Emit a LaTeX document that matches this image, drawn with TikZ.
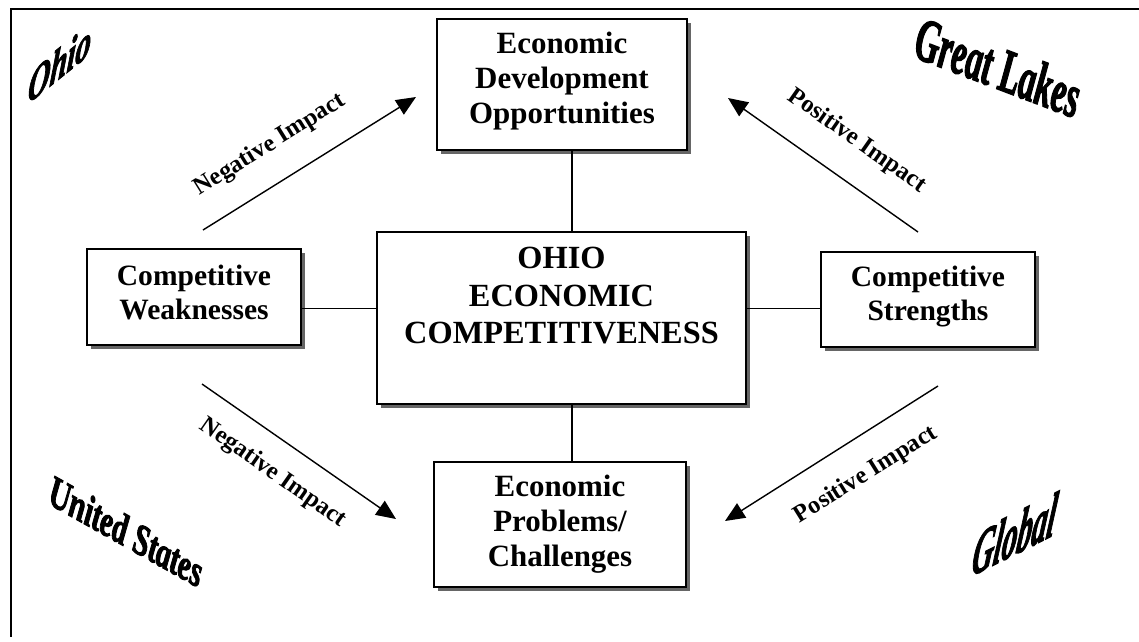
\documentclass[tikz,border=0pt]{standalone}
\usepackage{fontspec}
\setmainfont{Liberation Serif}
\newfontface\regionfont[FakeBold=2.5]{Liberation Serif Bold Italic}
\usetikzlibrary{arrows.meta, shadows}
\newlength{\pxu}
\setlength{\pxu}{0.025cm}

\begin{document}
\begin{tikzpicture}[x=0.025cm, y=-0.025cm,
    box/.style={draw, line width=1.1pt, fill=white, align=center, inner sep=0pt,
      drop shadow={shadow xshift=3pt, shadow yshift=-3pt, fill=black!60, opacity=1}},
    link/.style={line width=1pt},
    impact/.style={line width=1pt, -{Triangle[length=14pt, width=12pt]}},
    impactlabel/.style={font=\bfseries\fontsize{17.5}{20}\selectfont, inner sep=0pt},
    region/.style={font=\regionfont\fontsize{#1}{#1}\selectfont, inner sep=0pt}]
    \useasboundingbox (0,0) rectangle (1139,641);

    % Marco
    \draw[line width=1.2pt] (1139,9) -- (11,9) -- (11,637);

    % Cajas
    \node[box, minimum width=369\pxu, minimum height=172\pxu, text depth=45\pxu,
      font=\bfseries\fontsize{23}{26.5}\selectfont] (core) at (561.5,318)
      {OHIO\\ECONOMIC\\COMPETITIVENESS};
    \node[box, minimum width=250\pxu, minimum height=131\pxu, text depth=14\pxu,
      font=\bfseries\fontsize{22}{25}\selectfont] (opp) at (562,84.5)
      {Economic\\Development\\Opportunities};
    \node[box, minimum width=252\pxu, minimum height=125\pxu,
      font=\bfseries\fontsize{22}{25}\selectfont] (prob) at (560,524.5)
      {Economic\\Problems/\\Challenges};
    \node[box, minimum width=214\pxu, minimum height=96\pxu, text depth=10\pxu,
      font=\bfseries\fontsize{21}{24.5}\selectfont] (weak) at (194,297)
      {Competitive\\Weaknesses};
    \node[box, minimum width=214\pxu, minimum height=95\pxu, text depth=12\pxu,
      font=\bfseries\fontsize{21}{24.5}\selectfont] (strong) at (928,299.5)
      {Competitive\\Strengths};

    % Lineas al centro
    \coordinate (hub) at (572,308.5);
    \draw[link] (opp.south -| hub) -- (core.north -| hub);
    \draw[link] (prob.north -| hub) -- (core.south -| hub);
    \draw[link] (weak.east |- hub) -- (core.west |- hub);
    \draw[link] (strong.west |- hub) -- (core.east |- hub);

    % Flechas de impacto
    \coordinate (nw-tail) at (203,230);
    \coordinate (nw-tip) at (416,97);
    \coordinate (ne-tail) at (918,232);
    \coordinate (ne-tip) at (728,98);
    \coordinate (sw-tail) at (202,384);
    \coordinate (sw-tip) at (396,519);
    \coordinate (se-tail) at (938,386);
    \coordinate (se-tip) at (725,521);
    \draw[impact] (nw-tail) -- (nw-tip);
    \draw[impact] (ne-tail) -- (ne-tip);
    \draw[impact] (sw-tail) -- (sw-tip);
    \draw[impact] (se-tail) -- (se-tip);

    \node[impactlabel, rotate=32] (neg-up) at (270,145) {Negative Impact};
    \node[impactlabel, rotate=-35] (pos-up) at (857,141) {Positive Impact};
    \node[impactlabel, rotate=-35] (neg-down) at (273,473) {Negative Impact};
    \node[impactlabel, rotate=32] (pos-down) at (866,475) {Positive Impact};

    % Regiones (texto inclinado)
    \node[region=32, yslant=0.8, xscale=0.68, xslant=0.16] (ohio) at (60,63) {Ohio};
    \node[region=46, yslant=-0.38, xscale=0.5, xslant=0.32] (lakes) at (998,67) {Great Lakes};
    \node[region=34, yslant=-0.56, xscale=0.58, xslant=0.25] (usa) at (126,531) {United States};
    \node[region=42.5, yslant=0.5, xscale=0.5, xslant=0.32] (global) at (1015,534) {Global};
\end{tikzpicture}
\end{document}
